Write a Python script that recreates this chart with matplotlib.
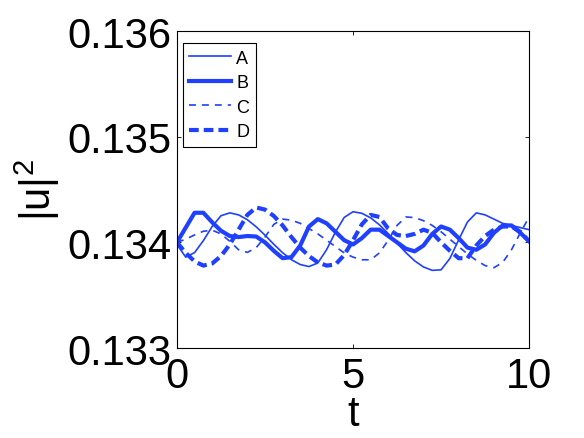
import numpy as np
import matplotlib
matplotlib.use("Agg")
import matplotlib.pyplot as plt

plt.rcParams['font.family'] = ['Liberation Sans', 'DejaVu Sans']
plt.rcParams['mathtext.default'] = 'regular'
plt.rcParams['lines.scale_dashes'] = False

# values, in units of 1e-4 around 0.134
t = np.arange(0, 10.01, 0.25)
a_dev = [-0.2, -1.4, -0.97, 0.16, 1.5, 2.52, 2.79, 2.6, 2.14, 1.47, 0.68,
         -0.18, -0.98, -1.64, -2.1, -2.29, -1.95, -0.69, 0.97, 2.36, 2.9,
         2.75, 2.32, 1.66, 0.82, -0.08, -0.97, -1.75, -2.33, -2.65, -2.6,
         -1.53, 0.24, 1.93, 2.79, 2.6, 2.2, 1.8, 1.6, 1.4, 1.2]
b_dev = [0, 1.4, 2.8, 2.8, 1.9, 1.1, 0.6, 0.5, 0.6, 0.55, 0.0,
         -0.8, -1.5, -1.4, -0.3, 1.5, 2.2, 1.8, 1.0, 0.2, -0.2,
         0.4, 1.2, 1.2, 0.6, 0.0, -0.6, -0.85, -0.3, 0.8, 1.5,
         1.2, 0.4, -0.5, -0.7, -0.2, 0.9, 1.6, 1.6, 0.9, 0.1]
c_dev = [0, 0.3, 0.7, 1.05, 1.15, 0.8, 0.1, -0.7, -0.95, -0.5, 0.5,
         1.7, 2.2, 2.1, 1.8, 1.3, 0.8, 0.2, -0.4, -1.0, -1.4,
         -1.65, -1.65, -1.0, 0.2, 1.6, 2.4, 2.35, 2.05, 1.6, 1.0,
         0.3, -0.4, -1.1, -1.7, -2.2, -2.4, -1.9, -0.7, 0.9, 2.4]
d_dev = [0, -1.0, -1.8, -2.2, -2.0, -1.3, -0.2, 1.2, 2.6, 3.3, 3.1,
         2.5, 1.6, 0.5, -0.5, -1.3, -1.9, -2.2, -2.1, -1.2, 0.2,
         1.7, 2.6, 2.4, 1.3, 0.7, 0.6, 0.8, 1.2, 0.9, 0.0,
         -0.8, -1.5, -1.5, -0.3, 0.6, 1.2, 1.5, 1.5, 1.0, 0.1]
base = 0.134
labels = ['A', 'B', 'C', 'D']

blue = '#2040ff'

fig = plt.figure(figsize=(5.84, 4.39), dpi=100)
ax = fig.add_axes([0.303, 0.205, 0.603, 0.722])

ax.plot(t, base + np.array(a_dev) * 1e-4, color=blue, lw=1.2, label=labels[0])
ax.plot(t, base + np.array(b_dev) * 1e-4, color=blue, lw=3.0, label=labels[1])
ax.plot(t, base + np.array(c_dev) * 1e-4, color=blue, lw=1.2, dashes=(5, 4.3),
        dash_capstyle='butt', label=labels[2])
ax.plot(t, base + np.array(d_dev) * 1e-4, color=blue, lw=3.0, dashes=(7, 3.6),
        dash_capstyle='butt', label=labels[3])

ax.set_xlim(0, 10)
ax.set_ylim(0.133, 0.136)
ax.set_xticks([0, 5, 10])
ax.set_yticks([0.133, 0.134, 0.135, 0.136])
ax.set_yticklabels(['0.133', '0.134', '0.135', '0.136'])
ax.tick_params(direction='in', length=3, width=0.6, labelsize=30,
               top=True, right=True)
ax.tick_params(axis='x', pad=6)
ax.tick_params(axis='y', pad=4)
for s in ax.spines.values():
    s.set_linewidth(0.8)

ax.set_xlabel('t', fontsize=30, labelpad=-2)
ax.set_ylabel('|u|$^2$', fontsize=30, labelpad=4)

leg = ax.legend(loc='upper left', bbox_to_anchor=(-0.008, 0.99), fontsize=13,
                handlelength=2.3, handletextpad=0.3, labelspacing=0.42,
                borderpad=0.35, fancybox=False, framealpha=1, edgecolor='black')
leg.get_frame().set_linewidth(0.8)

plt.savefig('out.png', dpi=100)
